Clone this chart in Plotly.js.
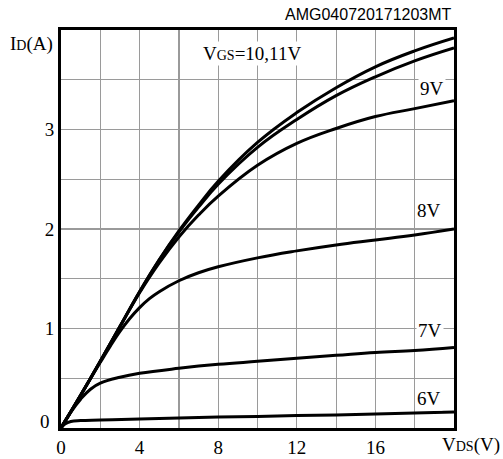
<!DOCTYPE html>
<html>
<head>
<meta charset="utf-8">
<script src="https://cdn.plot.ly/plotly-3.0.1.min.js"></script>
<style>html,body{margin:0;padding:0;background:#fff;}#chart{width:503px;height:459px;}</style>
</head>
<body>
<div id="chart"></div>
<script>
// Drain current ID (A) vs drain-source voltage VDS (V)
const vds11 = [0, 1, 2, 3, 4, 5, 6, 7, 8, 10, 12, 14, 16, 18, 20];
const id11  = [0, 0.33, 0.67, 1.02, 1.37, 1.69, 1.98, 2.24, 2.48, 2.87, 3.17, 3.42, 3.63, 3.79, 3.92];
const vds10 = [0, 1, 2, 3, 4, 5, 6, 7, 8, 10, 12, 14, 16, 18, 20];
const id10  = [0, 0.33, 0.67, 1.02, 1.37, 1.69, 1.97, 2.22, 2.45, 2.82, 3.10, 3.34, 3.53, 3.69, 3.82];
const vds9  = [0, 1, 2, 3, 4, 5, 6, 7, 8, 10, 12, 14, 16, 18, 20];
const id9   = [0, 0.33, 0.67, 1.02, 1.36, 1.66, 1.92, 2.14, 2.33, 2.64, 2.86, 3.01, 3.13, 3.21, 3.29];
const vds8  = [0, 1, 2, 2.5, 3, 3.5, 4, 4.5, 5, 6, 7, 8, 10, 12, 14, 16, 18, 20];
const id8   = [0, 0.33, 0.66, 0.82, 0.97, 1.10, 1.21, 1.30, 1.37, 1.48, 1.56, 1.62, 1.71, 1.78, 1.84, 1.89, 1.94, 2.00];
const vds7  = [0, 0.5, 1, 1.5, 2, 3, 4, 6, 8, 10, 12, 14, 16, 18, 20];
const id7   = [0, 0.16, 0.29, 0.39, 0.45, 0.51, 0.55, 0.60, 0.64, 0.67, 0.70, 0.73, 0.76, 0.78, 0.81];
const vds6  = [0, 0.2, 0.5, 1, 2, 4, 6, 8, 10, 12, 14, 16, 18, 20];
const id6   = [0, 0.04, 0.065, 0.075, 0.08, 0.09, 0.10, 0.11, 0.115, 0.125, 0.13, 0.14, 0.15, 0.16];

const xTickVals = [0, 2, 4, 6, 8, 10, 12, 14, 16, 18];
const xTickText = ['0', '', '4', '', '8', '', '12', '', '16', ''];
const yTickVals = [0.5, 1, 1.5, 2, 2.5, 3, 3.5];
const yTickText = ['', '1', '', '2', '', '3', ''];

const curveLabels = ['9V', '8V', '7V', '6V'];
const curveLabelX = [18.88, 18.72, 18.78, 18.75];
const curveLabelY = [3.415, 2.185, 0.98, 0.295];

const serif = 'Liberation Serif, Times New Roman, serif';
const series = [[vds11, id11], [vds10, id10], [vds9, id9], [vds8, id8], [vds7, id7], [vds6, id6]];
const traces = series.map(s => ({
  x: s[0], y: s[1], type: 'scatter', mode: 'lines',
  line: {color: '#000', width: 3, shape: 'spline', smoothing: 1.2},
  hoverinfo: 'skip', showlegend: false
}));

const annotations = curveLabels.map((t, i) => ({
  x: curveLabelX[i], y: curveLabelY[i], xref: 'x', yref: 'y', text: t,
  showarrow: false, font: {family: serif, size: 19, color: '#000'},
  bgcolor: '#fff', borderpad: 1, xanchor: 'center', yanchor: 'middle'
}));
annotations.push({
  x: 9.74, y: 3.765, xref: 'x', yref: 'y',
  text: 'V<span style="font-size:14px">GS</span>=10,11V',
  showarrow: false, font: {family: serif, size: 19, color: '#000'},
  bgcolor: '#fff', borderpad: 1, xanchor: 'center', yanchor: 'middle'
});
annotations.push({
  x: -0.015, y: 0.965, xref: 'paper', yref: 'paper',
  text: 'I<span style="font-size:14px">D</span>(A)',
  showarrow: false, font: {family: serif, size: 19, color: '#000'},
  xanchor: 'right', yanchor: 'middle'
});
annotations.push({
  x: -0.023, y: 0.016, xref: 'paper', yref: 'paper',
  text: '0',
  showarrow: false, font: {family: serif, size: 19, color: '#000'},
  xanchor: 'right', yanchor: 'middle'
});
annotations.push({
  x: 1.043, y: -0.043, xref: 'paper', yref: 'paper',
  text: 'V<span style="font-size:14px">DS</span>(V)',
  showarrow: false, font: {family: serif, size: 19, color: '#000'},
  xanchor: 'center', yanchor: 'middle'
});
annotations.push({
  x: 1, y: 1.038, xref: 'paper', yref: 'paper',
  text: 'AMG040720171203MT',
  showarrow: false, font: {family: 'Liberation Sans, Arial, sans-serif', size: 16, color: '#000'},
  xanchor: 'right', yanchor: 'middle'
});

const layout = {
  width: 503, height: 459,
  margin: {l: 61, r: 49, t: 30, b: 31, pad: 0},
  paper_bgcolor: '#fff', plot_bgcolor: '#fff',
  showlegend: false,
  xaxis: {
    range: [0, 20], tickvals: xTickVals, ticktext: xTickText, ticks: '',
    showgrid: true, gridcolor: '#9a9a9a', gridwidth: 1.2, zeroline: false,
    showline: true, mirror: true, linecolor: '#000', linewidth: 3,
    tickfont: {family: serif, size: 19, color: '#000'}, fixedrange: true
  },
  yaxis: {
    range: [0, 4], tickvals: yTickVals, ticktext: yTickText, ticks: '',
    showgrid: true, gridcolor: '#9a9a9a', gridwidth: 1.2, zeroline: false,
    showline: true, mirror: true, linecolor: '#000', linewidth: 3,
    tickfont: {family: serif, size: 19, color: '#000'}, fixedrange: true
  },
  annotations: annotations
};

Plotly.newPlot('chart', traces, layout, {displayModeBar: false, staticPlot: true});
</script>
</body>
</html>
